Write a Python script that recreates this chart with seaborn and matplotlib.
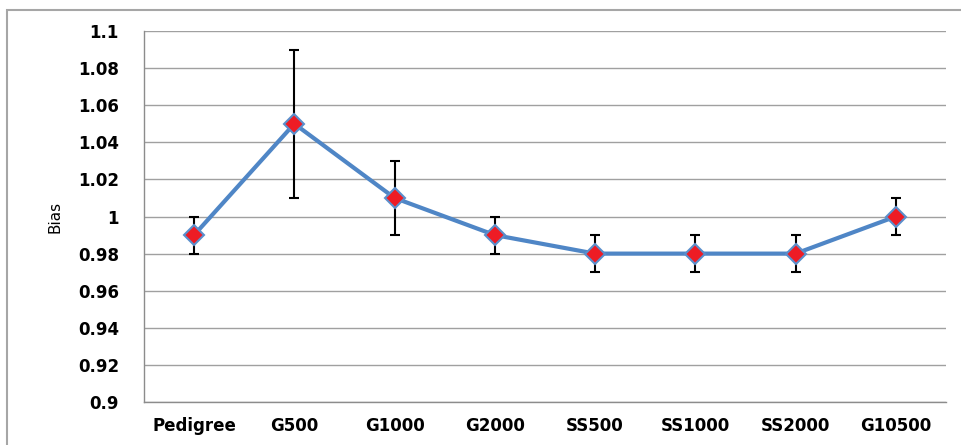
import matplotlib
matplotlib.use("Agg")
import matplotlib.pyplot as plt
import seaborn as sns
import pandas as pd
import numpy as np
from matplotlib.patches import Rectangle

# data
methods = ["Pedigree", "G500", "G1000", "G2000", "SS500", "SS1000", "SS2000", "G10500"]
bias = [0.99, 1.05, 1.01, 0.99, 0.98, 0.98, 0.98, 1.00]
err = [0.01, 0.04, 0.02, 0.01, 0.01, 0.01, 0.01, 0.01]
yticks = [0.9, 0.92, 0.94, 0.96, 0.98, 1.0, 1.02, 1.04, 1.06, 1.08, 1.1]
ytick_labels = ["0.9", "0.92", "0.94", "0.96", "0.98", "1", "1.02", "1.04", "1.06", "1.08", "1.1"]

df = pd.DataFrame({"method": methods, "bias": bias, "err": err})
df["pos"] = np.arange(len(df))

sns.set_style("white")
plt.rcParams["font.family"] = ["DejaVu Sans"]
plt.rcParams["text.color"] = "black"
plt.rcParams["axes.labelcolor"] = "black"
plt.rcParams["xtick.labelcolor"] = "black"
plt.rcParams["ytick.labelcolor"] = "black"

fig = plt.figure(figsize=(9.61, 4.45), dpi=100)
ax = fig.add_axes([0.1498, 0.0966, 0.8345, 0.8337])

# outer chart border
fig.patches.append(Rectangle((7 / 961, -0.1), 1.2, 1 - 10 / 445 + 0.1,
                             transform=fig.transFigure, fill=False,
                             edgecolor="#a6a6a6", linewidth=1.5, clip_on=False))

ax.errorbar(df["pos"], df["bias"], yerr=df["err"], fmt="none",
            ecolor="black", elinewidth=1.5, capsize=3.5, capthick=1.5, zorder=2)
sns.lineplot(data=df, x="pos", y="bias", ax=ax, color="#4f86c6", linewidth=3,
             marker="D", markersize=10.5, markerfacecolor="#ee1c25",
             markeredgecolor="#5b8fcc", markeredgewidth=1.5, zorder=3)

ax.set_xlim(-0.5, len(methods) - 0.5)
ax.set_ylim(0.9, 1.1)
ax.set_yticks(yticks)
ax.set_yticklabels(ytick_labels)
ax.set_xticks(df["pos"])
ax.set_xticklabels(methods)
ax.set_xticks(np.arange(-0.5, len(methods)), minor=True)
ax.tick_params(axis="x", which="major", length=0, pad=11)
ax.tick_params(axis="x", which="minor", length=5, color="#8c8c8c", width=1, direction="out")
ax.tick_params(axis="y", length=6, color="#8c8c8c", width=1, direction="out", pad=12)
for lab in ax.get_xticklabels() + ax.get_yticklabels():
    lab.set_fontweight("bold")
    lab.set_fontsize(12)
    lab.set_color("black")

ax.grid(axis="y", color="#a0a0a0", linewidth=1)
ax.set_axisbelow(True)
for s in ["top", "right"]:
    ax.spines[s].set_visible(False)
for s in ["left", "bottom"]:
    ax.spines[s].set_color("#8c8c8c")
    ax.spines[s].set_linewidth(1)

ax.set_xlabel("")
ax.set_ylabel("Bias", fontsize=11, color="black")
ax.yaxis.set_label_coords(-0.101, 0.5)

fig.savefig("out.png", dpi=100)
